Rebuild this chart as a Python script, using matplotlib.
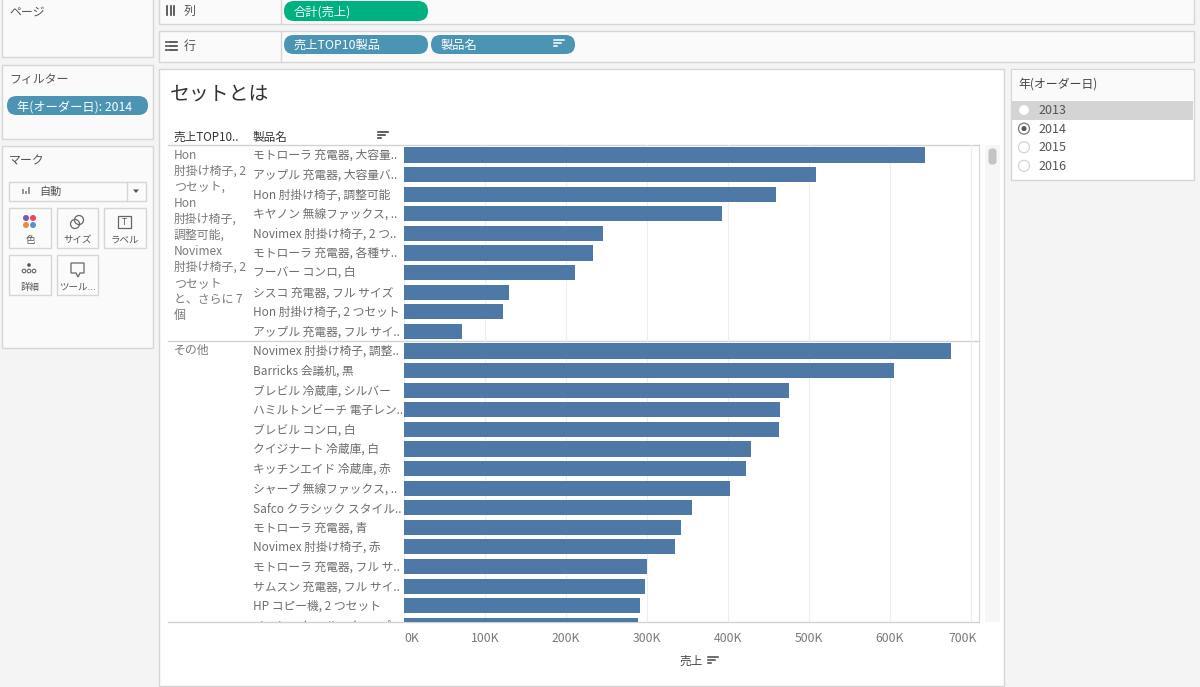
import matplotlib
matplotlib.use("Agg")
import matplotlib.pyplot as plt
from matplotlib.patches import Rectangle, FancyBboxPatch, Circle, Polygon
from matplotlib.transforms import blended_transform_factory, Bbox, ScaledTranslation

plt.rcParams['font.family'] = ['Noto Sans CJK JP', 'DejaVu Sans']

top_products = ["モトローラ 充電器, 大容量..", "アップル 充電器, 大容量バ..", "Hon 肘掛け椅子, 調整可能",
                "キヤノン 無線ファックス, ..", "Novimex 肘掛け椅子, 2 つ..", "モトローラ 充電器, 各種サ..",
                "フーバー コンロ, 白", "シスコ 充電器, フル サイズ", "Hon 肘掛け椅子, 2 つセット",
                "アップル 充電器, フル サイ.."]
top_sales = [643, 509, 459, 393, 246, 233, 211, 130, 122, 71]

other_products = ["Novimex 肘掛け椅子, 調整..", "Barricks 会議机, 黒", "ブレビル 冷蔵庫, シルバー",
                  "ハミルトンビーチ 電子レン..", "ブレビル コンロ, 白", "クイジナート 冷蔵庫, 白",
                  "キッチンエイド 冷蔵庫, 赤", "シャープ 無線ファックス, ..", "Safco クラシック スタイル..",
                  "モトローラ 充電器, 青", "Novimex 肘掛け椅子, 赤", "モトローラ 充電器, フル サ..",
                  "サムスン 充電器, フル サイ..", "HP コピー機, 2 つセット", "メモレックス ルーター, プロ.."]
other_sales = [675, 605, 475, 464, 463, 428, 422, 402, 355, 342, 335, 300, 297, 291, 289]

top_group_lines = ["Hon", "肘掛け椅子, 2", "つセット,", "Hon", "肘掛け椅子,", "調整可能,",
                   "Novimex", "肘掛け椅子, 2", "つセット", "と、さらに 7", "個"]
x_ticks = [0, 100, 200, 300, 400, 500, 600, 700]
years = ["2013", "2014", "2015", "2016"]

BAR = "#4e79a7"
BORDER = "#d6d6d6"
PANEL = "#fafafa"
DARK = "#3c3c3c"
GREY = "#7a7a7a"
PILL = "#4b94b3"
GREEN = "#00b180"

fig = plt.figure(figsize=(12, 6.87), dpi=100, facecolor="#f4f4f4")

# everything that is not the chart is placed in pixels on this axes
bg = fig.add_axes([0, 0, 1, 1])
bg.set_xlim(0, 1200)
bg.set_ylim(687, 0)
bg.axis("off")


def box(x0, y0, x1, y1, fc=PANEL, ec=BORDER, lw=1.0):
    bg.add_patch(Rectangle((x0, y0), x1 - x0, y1 - y0, fc=fc, ec=ec, lw=lw))


def label(x, y, s, size=8.6, color=DARK, ha="left", **kw):
    # the CJK font sits a little high when centred
    return bg.text(x, y + 1.2, s, fontsize=size, color=color, ha=ha, va="center", **kw)


def pill(x0, y0, x1, y1, s, fc=PILL):
    r = (y1 - y0) / 2
    bg.add_patch(FancyBboxPatch((x0 + r, y0 + r), x1 - x0 - 2 * r, 0,
                                boxstyle=f"round,pad={r},rounding_size={r}", fc=fc, ec="none"))
    label(x0 + 10, (y0 + y1) / 2, s, size=8.8, color="white")


def sort_icon(x, y, color=DARK):
    for i, w in enumerate([10, 7, 3]):
        bg.plot([x, x + w], [y + i * 3.2, y + i * 3.2], color=color, lw=1.1)


# left column
box(2, -2, 153, 57)
label(9, 11, "ページ", color="#555555")
box(2, 65, 153, 139)
label(9, 78, "フィルター", color="#555555")
pill(7, 96, 148, 115, "年(オーダー日): 2014")
box(2, 146, 153, 348)
label(9, 160, "マーク", color="#555555")

box(9, 182, 146, 201, fc="#fbfbfb")
bg.plot([127, 127], [182, 201], color=BORDER, lw=1)
for i, h in enumerate([5, 3, 7]):
    bg.add_patch(Rectangle((22 + i * 3.2, 194 - h), 2, h, fc="#999999", ec="none"))
label(39, 191, "自動", size=8, color="#555555")
bg.add_patch(Polygon([[133, 189.5], [139, 189.5], [136, 193]], fc="#555555", ec="none"))

buttons = [(9, 208, 51, 248, "色"), (57, 208, 98, 248, "サイズ"), (104, 208, 146, 248, "ラベル"),
           (9, 255, 51, 295, "詳細"), (57, 255, 98, 295, "ツール...")]
for x0, y0, x1, y1, s in buttons:
    box(x0, y0, x1, y1, fc="#fbfbfb")
    label((x0 + x1) / 2, y0 + 31, s, size=6.8, color="#555555", ha="center")
for (dx, dy), c in zip([(-3.5, -4), (3.5, -4), (-3.5, 3), (3.5, 3)],
                       ["#7b5aa6", "#e8475f", "#ef8a3c", "#5b8fd0"]):
    bg.add_patch(Circle((29.5 + dx, 222 + dy), 3, fc=c, ec="none"))
bg.add_patch(Circle((75, 224), 4.5, fc="none", ec="#666666", lw=0.9))
bg.add_patch(Circle((79, 220), 4.5, fc="none", ec="#666666", lw=0.9))
box(118, 216, 131, 228, fc="none", ec="#666666", lw=0.9)
label(124.5, 221, "T", size=6, color="#555555", ha="center")
bg.add_patch(Circle((29, 265), 1.8, fc="#555555", ec="none"))
for dx in [-5, 0, 5]:
    bg.add_patch(Circle((29 + dx, 271), 1.8, fc="none", ec="#666666", lw=0.8))
bg.add_patch(Polygon([[71, 263], [84, 263], [84, 273], [80, 273], [78, 277], [76, 273], [71, 273]],
                     fc="none", ec="#666666", lw=0.9))

# shelves
box(159, -2, 1194, 24)
box(159, 31, 1194, 62)
bg.plot([281, 281], [-2, 24], color=BORDER, lw=1)
bg.plot([281, 281], [31, 62], color=BORDER, lw=1)
for x in [167, 170.5, 174]:
    bg.plot([x, x], [6, 15], color="#444444", lw=1.2)
label(184, 10, "列", color="#555555")
for y in [41.5, 45.5, 49.5]:
    bg.plot([169, 177], [y, y], color="#444444", lw=1.2)
    bg.plot([165.5, 167], [y, y], color="#444444", lw=1.2)
label(184, 45, "行", color="#555555")
pill(284, 1, 428, 21, "合計(売上)", fc=GREEN)
pill(284, 35, 428, 54, "売上TOP10製品")
pill(431, 35, 575, 54, "製品名")
sort_icon(554, 40, color="white")

# main sheet
box(159, 69, 1004, 686, fc="white")
label(170, 93, "セットとは", size=14.3, color="#333333")
label(174, 136, "売上TOP10..", size=8.4, color="#333333")
label(253, 136, "製品名", size=8.4, color="#333333")
sort_icon(378, 132, color="#333333")

# year selector
box(1011, 69, 1194, 180, fc="white")
box(1012, 70, 1193, 100, fc=PANEL, ec="none")
label(1018, 83, "年(オーダー日)", color="#444444")
bg.add_patch(Rectangle((1012, 101), 181, 18.5, fc="#d4d4d4", ec="none"))
for i, year in enumerate(years):
    y = 110 + i * 18.6
    selected = year == "2014"
    bg.add_patch(Circle((1024, y), 5.5, fc="white", ec="#777777" if selected else "#d4d4d4", lw=0.9))
    if selected:
        bg.add_patch(Circle((1024, y), 2.5, fc="#555555", ec="none"))
    label(1038, y - 0.5, year, size=9, color="#555555")

# scroll strip
bg.add_patch(Rectangle((985, 145), 15, 477, fc="#f6f6f6", ec="none"))
bg.add_patch(FancyBboxPatch((990, 150), 5, 13, boxstyle="round,pad=1.5,rounding_size=3", fc="#c4c4c4", ec="none"))

# chart axes: 404..979 px across, 145..622 px down
ax = fig.add_axes([404 / 1200, 1 - 622 / 687, 575 / 1200, 477 / 687])
ax.patch.set_alpha(0)
products = top_products + other_products
sales = top_sales + other_sales
rows = list(range(len(products)))
ax.barh(rows, sales, height=0.77, color=BAR, zorder=3)
ax.set_xlim(0, 710)
ax.set_ylim(23.83, -0.51)
ax.set_xticks(x_ticks)
ax.set_xticklabels([f"{v}K" for v in x_ticks], fontsize=8.8, color=GREY)
ax.tick_params(axis="x", length=0, pad=7)
ax.get_xticklabels()[0].set_ha("left")
# the last tick label is pushed right of its gridline
last = ax.get_xticklabels()[-1]
last.set_ha("right")
last.set_transform(last.get_transform() + ScaledTranslation(6 / 100, 0, fig.dpi_scale_trans))
ax.set_yticks([])
ax.grid(axis="x", color="#eeeeee", lw=0.8, zorder=0)
for s in ["left", "top", "bottom"]:
    ax.spines[s].set_visible(False)
ax.spines["right"].set_color(BORDER)

# row labels are clipped at the bottom edge of the pane, as the last one is cut off
row_trans = blended_transform_factory(bg.transData, ax.transData)
clip = Bbox([[160, 687 - 622], [404, 687 - 145]])
for row, name in zip(rows, products):
    t = ax.text(253, row + 0.03, name, transform=row_trans, fontsize=8.5, color="#6e6e6e",
                va="center", ha="left", clip_on=True)
    t.set_clip_box(clip)

for i, line in enumerate(top_group_lines):
    label(174, 154 + i * 16.05, line, color="#7a7a7a")
label(174, 349, "その他", color="#7a7a7a")

for y in [145, 341, 622]:
    bg.plot([168, 979], [y, y], color="#d2d2d2", lw=1, zorder=5)

label(691, 660, "売上", size=8.4, color="#444444", ha="center")
sort_icon(708, 657, color="#444444")

fig.savefig("out.png", dpi=100)
